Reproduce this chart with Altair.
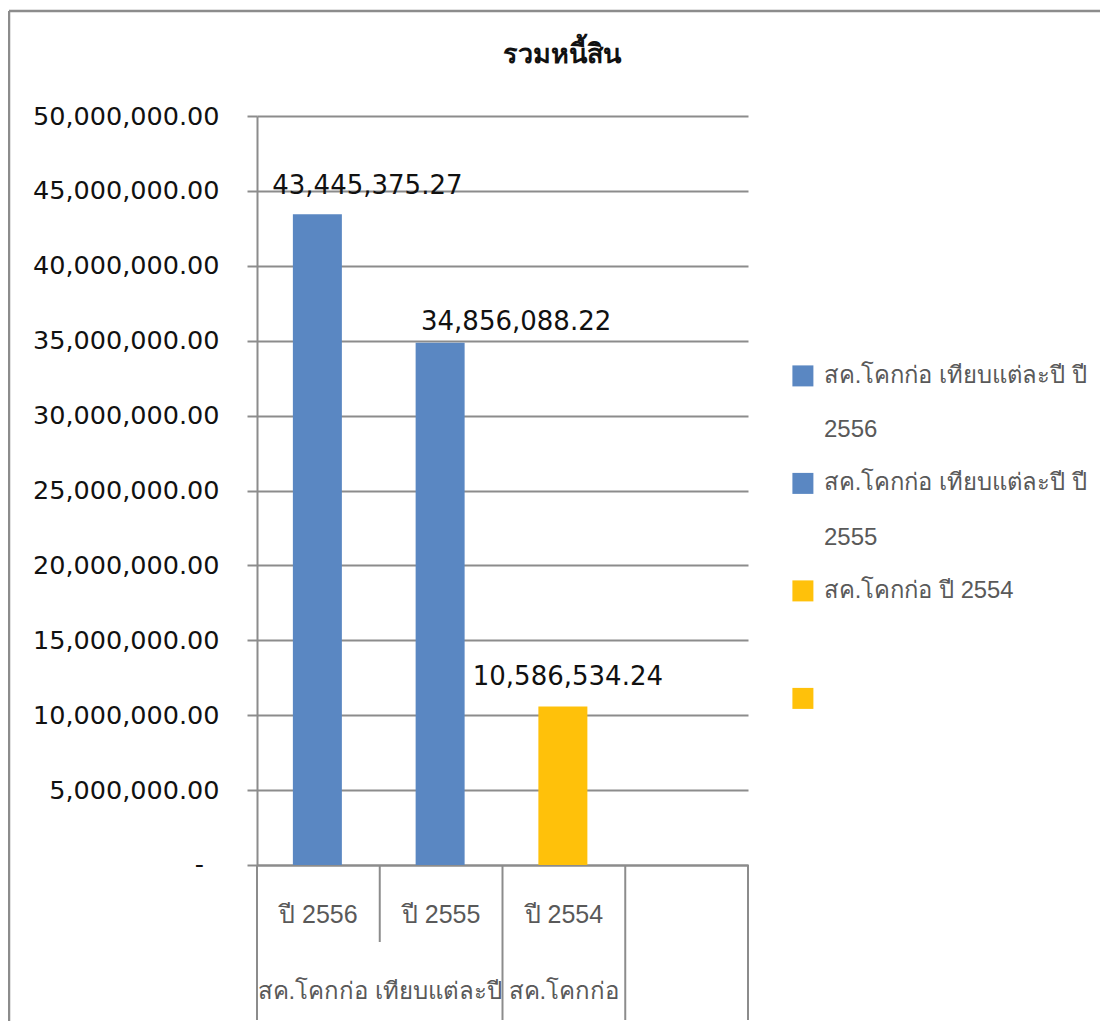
import altair as alt
import pandas as pd

title = "รวมหนี้สิน"
categories = ["ปี 2556", "ปี 2555", "ปี 2554", ""]
series = ["สค.โคกก่อ เทียบแต่ละปี ปี", "สค.โคกก่อ เทียบแต่ละปี ปี ", "สค.โคกก่อ ปี 2554", " "]
values = [43445375.27, 34856088.22, 10586534.24, None]
colors = ["#5A87C2", "#5A87C2", "#FFC10A", "#FFC10A"]
wrapped = ["2556", "2555"]
groups = ["สค.โคกก่อ เทียบแต่ละปี", "สค.โคกก่อ"]
zero_label = "-"

FONT = "DejaVu Sans"
THAI = "Liberation Sans"
GREY = "#8C8C8C"
W, H = 491, 749

df = pd.DataFrame({"cat": categories, "series": series, "value": values})
bars_df = df.dropna()

x_scale = alt.Scale(domain=categories, paddingInner=0, paddingOuter=0)
y_scale = alt.Scale(domain=[0, 50000000], nice=False)
x_axis = alt.Axis(title=None, labelAngle=0, ticks=False, domainColor=GREY, domainWidth=2,
                  labelFont=THAI, labelFontSize=25, labelColor="#595959", labelPadding=49,
                  labelBaseline="middle", labelOverlap=False)
y_axis = alt.Axis(title=None, values=list(range(0, 50000001, 5000000)),
                  labelExpr="datum.value==0 ? '' : format(datum.value, ',.2f')",
                  labelFont=FONT, labelFontSize=25.5, labelColor="#111111", labelPadding=28,
                  labelLimit=300, tickSize=10, tickColor=GREY, tickWidth=2,
                  domainColor=GREY, domainWidth=2,
                  grid=True, gridColor=GREY, gridWidth=2, labelOverlap=False)


def xc(band=0.5):
    return alt.X("cat:N", sort=categories, scale=x_scale, axis=x_axis, bandPosition=band)


yc = alt.Y("value:Q", scale=y_scale, axis=y_axis)

bars = alt.Chart(bars_df).mark_bar(size=49, xOffset=-1).encode(
    x=xc(), y=yc,
    color=alt.Color("series:N", scale=alt.Scale(domain=series, range=colors),
                    legend=alt.Legend(title=None, orient="none", legendX=534, legendY=248,
                                      symbolType="square", symbolSize=441, symbolStrokeWidth=0,
                                      labelFont=THAI, labelFontSize=23.8, labelColor="#595959",
                                      labelLimit=400, labelOffset=9, rowPadding=82.5)),
)

layers = [bars]
offsets = [(49, -28), (75, -21), (4, -29)]
for i, (dx, dy) in enumerate(offsets):
    layers.append(alt.Chart(bars_df.iloc[[i]]).mark_text(
        font=FONT, fontSize=26, color="#111111", dx=dx, dy=dy, baseline="middle").encode(
        x=xc(), y=yc, text=alt.Text("value:Q", format=",.2f")))

# the zero tick's dash, which sits further left than the other tick labels
layers.append(alt.Chart(pd.DataFrame({"value": [0], "t": [zero_label]})).mark_text(
    font=FONT, fontSize=25.5, color="#111111", align="right", baseline="middle").encode(
    x=alt.value(-53), y=yc, text="t:N"))

# chart title
layers.append(alt.Chart(pd.DataFrame({"t": [title]})).mark_text(
    font=FONT, fontSize=27, fontWeight="bold", color="#111111", baseline="middle").encode(
    x=alt.value(305), y=alt.value(-61), text="t:N"))

# continuation lines of the two wrapped legend entries
for txt, ypos in zip(wrapped, [314, 422]):
    layers.append(alt.Chart(pd.DataFrame({"t": [txt]})).mark_text(
        font=THAI, fontSize=24, color="#595959", align="left", baseline="middle").encode(
        x=alt.value(567), y=alt.value(ypos), text="t:N"))

# second level of the category axis
for label, cat, band in zip(groups, ["ปี 2555", "ปี 2554"], [0, 0.5]):
    layers.append(alt.Chart(pd.DataFrame({"t": [label], "cat": [cat]})).mark_text(
        font=THAI, fontSize=24, color="#595959", baseline="middle").encode(
        x=xc(band), y=alt.value(876), text="t:N"))

# separators of the category axis
seps = [(categories[0], 0, 904), (categories[1], 0, 826), (categories[2], 0, 904),
        (categories[3], 0, 904), (categories[3], 1, 904)]
for cat, band, end in seps:
    layers.append(alt.Chart(pd.DataFrame({"cat": [cat]})).mark_rule(color=GREY, strokeWidth=2).encode(
        x=xc(band), y=alt.value(H), y2=alt.value(end)))

# outer chart frame
layers.append(alt.Chart(pd.DataFrame({"a": [0]})).mark_rule(color=GREY, strokeWidth=2.5).encode(
    x=alt.value(-248), x2=alt.value(851), y=alt.value(-105)))
layers.append(alt.Chart(pd.DataFrame({"a": [0]})).mark_rule(color=GREY, strokeWidth=2.5).encode(
    x=alt.value(-248), y=alt.value(-105), y2=alt.value(905)))

chart = alt.layer(*layers).properties(
    width=W, height=H,
    padding={"left": 249, "top": 108, "right": 352, "bottom": 156},
    autosize=alt.AutoSizeParams(type="none"),
).configure_view(stroke=None)

chart.save("out.html", embed_options={"renderer": "svg", "actions": False})
